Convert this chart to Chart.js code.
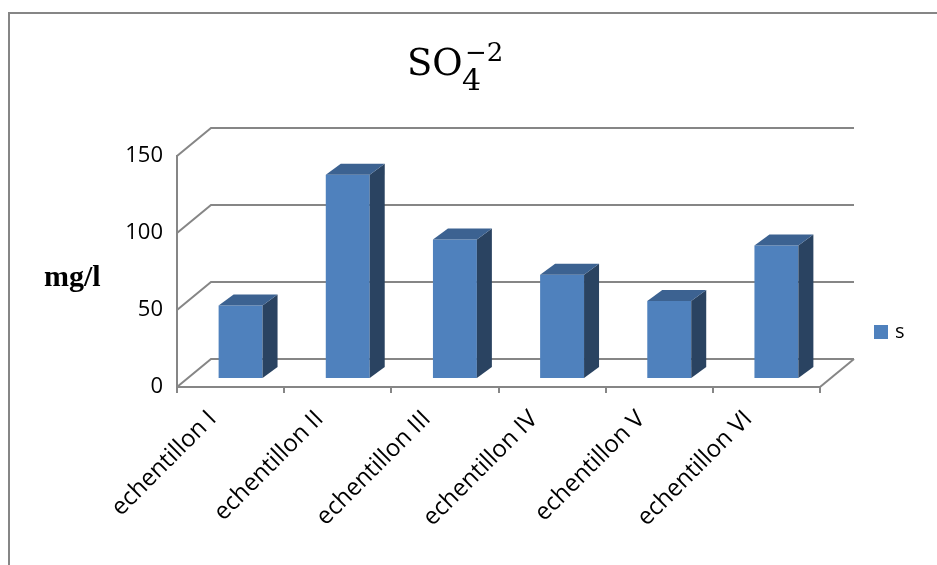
<!DOCTYPE html>
<html>
<head>
<meta charset="utf-8">
<title>SO4</title>
<script src="https://cdn.jsdelivr.net/npm/chart.js@4"></script>
<style>
  html, body { margin: 0; padding: 0; background: #fff; }
</style>
</head>
<body>
<canvas id="graficoSulfato" width="937" height="565"></canvas>
<script>
// Dados das amostras (mg/l)
const amostras = ['echentillon I', 'echentillon II', 'echentillon III', 'echentillon IV', 'echentillon V', 'echentillon VI'];
const valoresSulfato = [47, 132, 90, 67, 50, 86];
const nomeSerie = 's';
const unidade = 'mg/l';
const escalaY = { min: 0, max: 150, passo: 50 };

// Aparência
const corGrade = '#868686';
const corFrente = '#4f81bd';
const corLado = '#2a4361';
const corTopo = '#3c6291';
const profundidade = { x: 34, y: -28 };   // parede do fundo
const posicaoBarra = { x: 10, y: -9 };    // barras no meio do piso
const espessuraBarra = { x: 15, y: -11 };

// Desenha paredes, piso e as faces laterais das barras
const caixa3D = {
    id: 'caixa3D',
    beforeDraw(chart) {
        const { ctx, chartArea: a, scales: { y } } = chart;
        ctx.save();
        ctx.fillStyle = '#fff';
        ctx.fillRect(0, 0, chart.width, chart.height);

        // moldura
        ctx.strokeStyle = corGrade;
        ctx.lineWidth = 2;
        ctx.beginPath();
        ctx.moveTo(9, chart.height);
        ctx.lineTo(9, 13);
        ctx.lineTo(chart.width, 13);
        ctx.stroke();

        // linhas de grade na parede lateral e no fundo
        y.ticks.forEach(t => {
            const py = y.getPixelForValue(t.value);
            ctx.beginPath();
            ctx.moveTo(a.left, py);
            ctx.lineTo(a.left + profundidade.x, py + profundidade.y);
            ctx.lineTo(a.right + profundidade.x, py + profundidade.y);
            ctx.stroke();
        });

        // aresta direita do piso
        const y0 = y.getPixelForValue(0);
        ctx.beginPath();
        ctx.moveTo(a.right, y0);
        ctx.lineTo(a.right + profundidade.x, y0 + profundidade.y);
        ctx.stroke();
        ctx.restore();
    },
    beforeDatasetsDraw(chart) {
        chart.ctx.save();
        chart.ctx.translate(posicaoBarra.x, posicaoBarra.y);
    },
    afterDatasetsDraw(chart) {
        const ctx = chart.ctx;
        chart.getDatasetMeta(0).data.forEach(barra => {
            const { x, y, base, width } = barra.getProps(['x', 'y', 'base', 'width'], true);
            const esq = x - width / 2;
            const dir = x + width / 2;
            const dx = espessuraBarra.x, dy = espessuraBarra.y;

            ctx.fillStyle = corLado;
            ctx.beginPath();
            ctx.moveTo(dir, y);
            ctx.lineTo(dir + dx, y + dy);
            ctx.lineTo(dir + dx, base + dy);
            ctx.lineTo(dir, base);
            ctx.closePath();
            ctx.fill();

            ctx.fillStyle = corTopo;
            ctx.beginPath();
            ctx.moveTo(esq, y);
            ctx.lineTo(esq + dx, y + dy);
            ctx.lineTo(dir + dx, y + dy);
            ctx.lineTo(dir, y);
            ctx.closePath();
            ctx.fill();
        });
        ctx.restore();
    },
    afterDraw(chart) {
        const ctx = chart.ctx;
        ctx.save();
        ctx.fillStyle = '#000';
        ctx.textBaseline = 'alphabetic';
        ctx.textAlign = 'left';

        // titulo SO4 com indice e expoente
        ctx.font = '37px "DejaVu Serif"';
        ctx.fillText('SO', 407, 75);
        ctx.font = '30px "DejaVu Serif"';
        ctx.fillText('4', 462, 90);
        ctx.font = '26px "DejaVu Serif"';
        ctx.fillText('\u22122', 465, 61);

        // unidade do eixo Y
        ctx.font = 'bold 30px "Liberation Serif"';
        ctx.fillText(unidade, 44, 286);

        // legenda
        ctx.fillStyle = corFrente;
        ctx.fillRect(874, 325, 14, 14);
        ctx.fillStyle = '#000';
        ctx.font = '20px "Open Sans"';
        ctx.fillText(nomeSerie, 895, 338);
        ctx.restore();
    }
};

const ctx = document.getElementById('graficoSulfato').getContext('2d');

const grafico = new Chart(ctx, {
    type: 'bar',
    data: {
        labels: amostras,
        datasets: [{
            label: nomeSerie,
            data: valoresSulfato,
            backgroundColor: corFrente,
            borderWidth: 0,
            categoryPercentage: 1,
            barPercentage: 0.41,
            clip: false
        }]
    },
    options: {
        responsive: false,
        animation: false,
        layout: {
            padding: { left: 0, top: 156, right: 117, bottom: 0 }
        },
        plugins: {
            legend: { display: false },
            title: { display: false },
            tooltip: { enabled: false }
        },
        scales: {
            x: {
                afterFit: s => { s.height = 178; },
                grid: {
                    display: true,
                    drawOnChartArea: false,
                    drawTicks: true,
                    tickLength: 6,
                    color: corGrade,
                    lineWidth: 2
                },
                border: { display: true, color: corGrade, width: 2 },
                ticks: {
                    autoSkip: false,
                    maxRotation: 45,
                    minRotation: 45,
                    padding: 12,
                    labelOffset: -18,
                    color: '#000',
                    font: { family: 'Open Sans', size: 24 }
                }
            },
            y: {
                min: escalaY.min,
                max: escalaY.max,
                afterFit: s => { s.width = 177; },
                grid: { display: false, drawTicks: false },
                border: { display: true, color: corGrade, width: 2 },
                ticks: {
                    stepSize: escalaY.passo,
                    padding: 14,
                    color: '#000',
                    font: { family: 'Open Sans', size: 22 }
                }
            }
        }
    },
    plugins: [caixa3D]
});
</script>
</body>
</html>
